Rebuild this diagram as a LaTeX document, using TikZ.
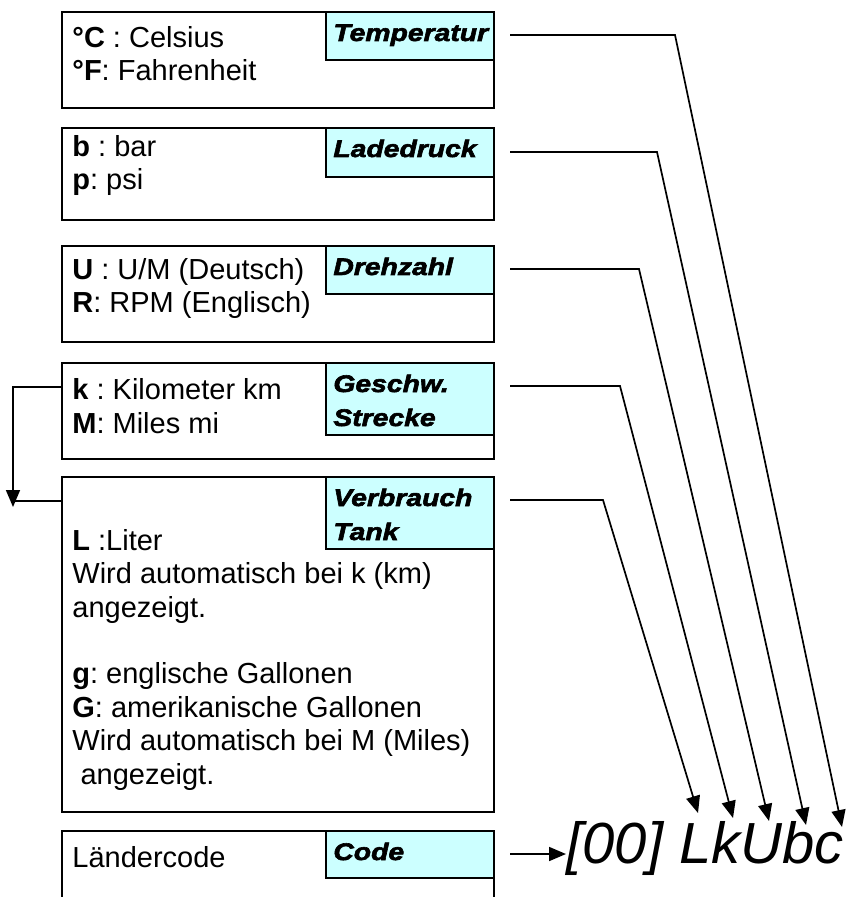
\documentclass[tikz,border=0pt]{standalone}
\usepackage{fontspec}
\setmainfont{Liberation Sans}
\newfontfamily\tagfont[FakeStretch=1.18,FakeBold=2.5]{Liberation Sans}
\usetikzlibrary{arrows.meta}
\definecolor{tagcyan}{HTML}{CCFFFF}
\frenchspacing

\tikzset{
	unitbox/.style={draw, line width=1pt, minimum width=216pt, anchor=north west, inner sep=0pt},
	tagbox/.style={draw, line width=1pt, fill=tagcyan, minimum width=84pt, anchor=north west, inner sep=0pt},
	bodytxt/.style={anchor=base west, align=left, inner sep=0pt, font=\fontsize{14.5}{16.7}\selectfont},
	tagtxt/.style={anchor=base west, align=left, inner sep=0pt, font=\tagfont\bfseries\itshape\fontsize{12}{17}\selectfont},
	link/.style={line width=0.85pt},
	tip/.style={-{Triangle[length=8.5pt,width=7pt]}}
}

\begin{document}
\begin{tikzpicture}[x=0.5pt,y=-0.5pt]
	\useasboundingbox (0,0) rectangle (851,897);

	% boxes
	\node[unitbox, minimum height=48pt] (tempBox) at (61,11) {};
	\node[unitbox, minimum height=46pt] (druckBox) at (61,127) {};
	\node[unitbox, minimum height=48pt] (drehBox) at (61,245) {};
	\node[unitbox, minimum height=48pt] (wegBox) at (61,362) {};
	\node[unitbox, minimum height=167.5pt] (tankBox) at (61,476) {};
	\node[unitbox, minimum height=45pt] (codeBox) at (61,830) {};

	\node[tagbox, minimum height=24pt] (tempTag) at (325,11) {};
	\node[tagbox, minimum height=24.5pt] (druckTag) at (325,127) {};
	\node[tagbox, minimum height=24pt] (drehTag) at (325,245) {};
	\node[tagbox, minimum height=36pt] (wegTag) at (325,362) {};
	\node[tagbox, minimum height=36pt] (tankTag) at (325,476) {};
	\node[tagbox, minimum height=23.5pt] (codeTag) at (325,830) {};

	% texts (placed by the baseline of their last line)
	\node[bodytxt] (tempTxt) at (72,81) {\textbf{°C} : Celsius\\\textbf{°F}: Fahrenheit};
	\node[bodytxt] (druckTxt) at (72,190) {\textbf{b} : bar\\\textbf{p}: psi};
	\node[bodytxt] (drehTxt) at (72,313) {\textbf{U} : U/M (Deutsch)\\\textbf{R}: RPM (Englisch)};
	\node[bodytxt] (wegTxt) at (72,433) {\textbf{k} : Kilometer km\\\textbf{M}: Miles mi};
	\node[bodytxt] (tankTxt) at (72,784) {\textbf{L} :Liter\\Wird automatisch bei k (km)\\angezeigt.\\[16.7pt]\textbf{g}: englische Gallonen\\\textbf{G}: amerikanische Gallonen\\Wird automatisch bei M (Miles)\\\hspace*{.28em}angezeigt.};
	\node[bodytxt] (codeTxt) at (72,867) {Ländercode};

	\node[tagtxt] (tempLbl) at (333,41) {Temperatur};
	\node[tagtxt] (druckLbl) at (333,157) {Ladedruck};
	\node[tagtxt] (drehLbl) at (333,275) {Drehzahl};
	\node[tagtxt] (wegLbl) at (333,426) {Geschw.\\Strecke};
	\node[tagtxt] (tankLbl) at (333,540) {Verbrauch\\Tank};
	\node[tagtxt] (codeLbl) at (333,860) {Code};

	\node[anchor=base west, inner sep=0pt, font=\itshape\fontsize{29}{34}\selectfont] (result) at (566,863) {[00] LkUbc};

	% connectors
	\coordinate (tempOut) at (510,35);
	\coordinate (druckOut) at (510,152);
	\coordinate (drehOut) at (510,269);
	\coordinate (wegOut) at (510,386);
	\coordinate (tankOut) at (510,500);
	\coordinate (codeOut) at (510,854);

	\coordinate (tempBend) at (675,35);
	\coordinate (druckBend) at (657,152);
	\coordinate (drehBend) at (639,269);
	\coordinate (wegBend) at (620,386);
	\coordinate (tankBend) at (603,500);

	\coordinate (tipL) at (698,813);
	\coordinate (tipk) at (733,818);
	\coordinate (tipU) at (769,821);
	\coordinate (tipb) at (806,825);
	\coordinate (tipc) at (842,827);

	\draw[link,tip](tempOut)--(tempBend)--(tipc);
	\draw[link,tip](druckOut)--(druckBend)--(tipb);
	\draw[link,tip](drehOut)--(drehBend)--(tipU);
	\draw[link,tip](wegOut)--(wegBend)--(tipk);
	\draw[link,tip](tankOut)--(tankBend)--(tipL);
	\draw[link,tip](codeOut)--(codeOut -| result.west);

	\coordinate (kmOut) at (61,387);
	\coordinate (kmDown) at (13,507);
	\coordinate (literIn) at (61,501);
	\draw[link,tip](kmOut)-|(kmDown);
	\draw[link](kmDown |- literIn)--(literIn);
\end{tikzpicture}
\end{document}
